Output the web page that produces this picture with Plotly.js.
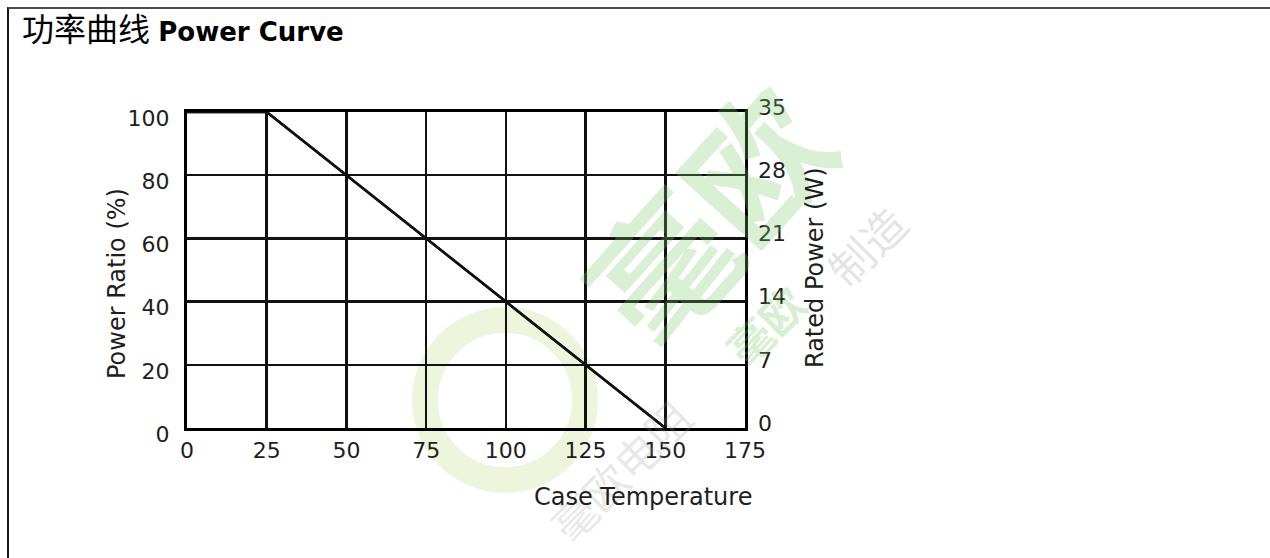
<!DOCTYPE html>
<html>
<head>
<meta charset="utf-8">
<script src="https://cdn.plot.ly/plotly-3.0.1.min.js"></script>
<style>
  html, body { margin: 0; padding: 0; background: #fff; }
  #chart { position: absolute; left: 0; top: 0; width: 1270px; height: 558px; }
  #frame { position: absolute; left: 7px; top: 7px; width: 1263px; height: 551px;
           border-top: 2px solid #4d4d4d; border-left: 2px solid #1a1a1a;
           box-sizing: border-box; pointer-events: none; }
</style>
</head>
<body>
<div id="chart"></div>
<div id="frame"></div>
<script>
// ---- data ----
const caseTemperature = [0, 25, 150];        // °C
const powerRatio = [100, 100, 0];            // %
const ratedPower = [35, 35, 0];              // W
const xTicks = [0, 25, 50, 75, 100, 125, 150, 175];
const yTicks = [0, 20, 40, 60, 80, 100];
const y2Ticks = [0, 7, 14, 21, 28, 35];

const FONT = "DejaVu Sans, Liberation Sans, Arial, sans-serif";
const CJK = "DejaVu Sans, Noto Sans CJK SC, sans-serif";
const TXT = "#1e1e1e";

const traces = [
  {
    x: caseTemperature, y: powerRatio, type: "scatter", mode: "lines",
    line: { color: "#111", width: 2.5 }, hoverinfo: "x+y", showlegend: false
  },
  {
    x: caseTemperature, y: ratedPower, type: "scatter", mode: "lines", yaxis: "y2",
    line: { color: "#111", width: 2.5 }, hoverinfo: "x+y", showlegend: false
  }
];

function px(x) { return (x - 187) / 558; }
function py(y) { return (428 - y) / 316; }

const layout = {
  width: 1270, height: 558,
  margin: { l: 187, r: 525, t: 112, b: 130 },
  paper_bgcolor: "rgba(0,0,0,0)", plot_bgcolor: "rgba(0,0,0,0)",
  font: { family: FONT, size: 22, color: TXT },
  showlegend: false,
  title: {
    text: "<span style='font-size:32px'>功率曲线</span> <b>Power Curve</b>",
    font: { family: CJK, size: 26, color: "#000" },
    x: 22 / 1270, xanchor: "left", xref: "container",
    y: 1 - 32 / 558, yanchor: "middle", yref: "container"
  },
  xaxis: {
    range: [0, 175], tickvals: xTicks, ticktext: xTicks.map(String),
    showgrid: true, gridcolor: "#111", gridwidth: 2.5,
    showline: true, mirror: true, linecolor: "#000", linewidth: 3,
    zeroline: false, ticks: "", ticklabelstandoff: 1,
    tickfont: { family: FONT, size: 22, color: TXT }, fixedrange: true
  },
  yaxis: {
    range: [0, 100], tickvals: yTicks, ticktext: yTicks.map(String),
    showgrid: true, gridcolor: "#111", gridwidth: 2.5,
    showline: true, mirror: true, linecolor: "#000", linewidth: 3,
    zeroline: false, ticks: "", ticklabelstandoff: 10, ticklabelshift: 6,
    tickfont: { family: FONT, size: 22, color: TXT }, fixedrange: true
  },
  yaxis2: {
    overlaying: "y", side: "right", range: [0, 35],
    tickvals: y2Ticks, ticktext: y2Ticks.map(String),
    showgrid: false, showline: false, zeroline: false, ticks: "",
    ticklabelstandoff: 12, ticklabelshift: -5,
    tickfont: { family: FONT, size: 22, color: TXT }, fixedrange: true
  },
  shapes: [
    // faint round logo of the watermark
    { type: "circle", xref: "paper", yref: "paper", layer: "below",
      x0: px(425), x1: px(585), y0: py(480), y1: py(320),
      line: { color: "rgba(185,220,120,0.25)", width: 26 }, fillcolor: "rgba(0,0,0,0)" }
  ],
  annotations: [
    // watermark
    { text: "<b>毫欧</b>", xref: "paper", yref: "paper", showarrow: false,
      x: px(705), y: py(212), xanchor: "center", yanchor: "middle", textangle: -48,
      font: { family: "Noto Sans CJK SC", size: 140, color: "rgba(120,200,100,0.28)" } },
    { text: "<b>毫欧</b>", xref: "paper", yref: "paper", showarrow: false,
      x: px(765), y: py(325), xanchor: "center", yanchor: "middle", textangle: -45,
      font: { family: "Noto Sans CJK SC", size: 44, color: "rgba(120,200,100,0.30)" } },
    { text: "制造", xref: "paper", yref: "paper", showarrow: false,
      x: px(866), y: py(245), xanchor: "center", yanchor: "middle", textangle: -45,
      font: { family: "Noto Sans CJK SC", size: 44, color: "rgba(150,150,150,0.25)" } },
    { text: "毫欧电阻", xref: "paper", yref: "paper", showarrow: false,
      x: px(620), y: py(470), xanchor: "center", yanchor: "middle", textangle: -45,
      font: { family: "Noto Sans CJK SC", size: 44, color: "rgba(150,150,150,0.22)" } },
    // axis titles
    { text: "Power Ratio (%)", xref: "paper", yref: "paper", showarrow: false,
      x: px(117), y: py(284), textangle: -90,
      xanchor: "center", yanchor: "middle",
      font: { family: FONT, size: 24, color: TXT } },
    { text: "Rated Power (W)", xref: "paper", yref: "paper", showarrow: false,
      x: px(815), y: py(268), textangle: -90,
      xanchor: "center", yanchor: "middle",
      font: { family: FONT, size: 24, color: TXT } },
    { text: "Case Temperature", xref: "paper", yref: "paper", showarrow: false,
      x: px(643), y: py(497),
      xanchor: "center", yanchor: "middle",
      font: { family: FONT, size: 24, color: TXT } }
  ]
};

Plotly.newPlot("chart", traces, layout, { staticPlot: true, displayModeBar: false });
</script>
</body>
</html>
